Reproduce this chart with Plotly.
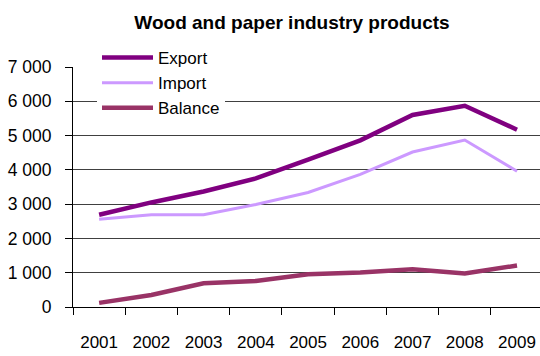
import plotly.graph_objects as go

# Wood and paper industry trade, by year
years = ["2001", "2002", "2003", "2004", "2005", "2006", "2007", "2008", "2009"]
export_vals = [2690, 3050, 3370, 3750, 4300, 4860, 5600, 5870, 5170]
import_vals = [2560, 2690, 2690, 2990, 3340, 3870, 4520, 4870, 3960]
balance_vals = [120, 350, 690, 760, 955, 1005, 1100, 975, 1210]
y_ticks = [0, 1000, 2000, 3000, 4000, 5000, 6000, 7000]
y_tick_text = ["0", "1 000", "2 000", "3 000", "4 000", "5 000", "6 000", "7 000"]

FONT = "Liberation Sans, Arial, sans-serif"

fig = go.Figure()
fig.add_trace(go.Scatter(x=years, y=export_vals, name="Export", mode="lines",
                         line=dict(color="#800080", width=4.5)))
fig.add_trace(go.Scatter(x=years, y=import_vals, name="Import", mode="lines",
                         line=dict(color="#CC99FF", width=3)))
fig.add_trace(go.Scatter(x=years, y=balance_vals, name="Balance", mode="lines",
                         line=dict(color="#993366", width=4.5)))

fig.update_layout(
    width=540, height=356,
    margin=dict(l=73, r=0, t=67, b=49, autoexpand=False),
    paper_bgcolor="white", plot_bgcolor="white",
    font=dict(family=FONT, size=17, color="black"),
    title=dict(text="<b>Wood and paper industry products</b>",
               font=dict(family=FONT, size=19, color="black"),
               x=292 / 540, xref="container", xanchor="center",
               y=1 - 22 / 356, yref="container", yanchor="middle"),
    showlegend=True,
    legend=dict(x=(97 - 73) / 467, xref="paper", xanchor="left",
                y=1 + 27 / 240, yref="paper", yanchor="top",
                bgcolor="white", borderwidth=0,
                font=dict(family=FONT, size=17, color="black"),
                tracegroupgap=0, itemwidth=51),
    xaxis=dict(type="category", range=[-0.5, 8.44], tickson="boundaries",
               ticks="outside", ticklen=7, tickcolor="black", tickangle=0,
               showline=True, linecolor="black", linewidth=1,
               showgrid=False, ticklabelstandoff=20,
               tickfont=dict(family=FONT, size=17)),
    yaxis=dict(range=[0, 7000], tickvals=y_ticks, ticktext=y_tick_text,
               ticks="outside", ticklen=7, tickcolor="black",
               showline=True, linecolor="black", linewidth=1,
               showgrid=True, gridcolor="#404040", gridwidth=1,
               zeroline=False, ticklabelstandoff=10,
               tickfont=dict(family=FONT, size=17.5)),
)

fig.write_html("out.html")
